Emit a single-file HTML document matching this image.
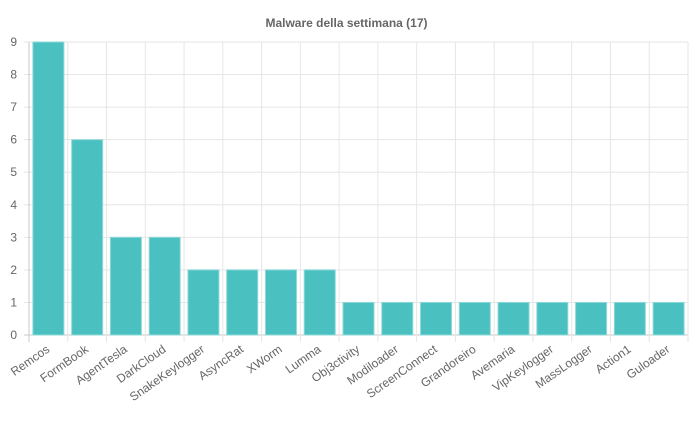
<!DOCTYPE html>
<html><head><meta charset="utf-8"><style>
body{margin:0;background:#fff;font-family:"Liberation Sans",Arial,sans-serif}
</style></head><body>
<svg id="chart" width="693" height="421" xmlns="http://www.w3.org/2000/svg">
<text x="346.5" y="27" text-anchor="middle" font-size="12" font-weight="bold" fill="#666" font-family="Liberation Sans, sans-serif">Malware della settimana (17)</text>
<g id="grid"></g><g id="bars"></g><g id="labels"></g>
</svg>
<script>
const categories=["Remcos","FormBook","AgentTesla","DarkCloud","SnakeKeylogger","AsyncRat","XWorm","Lumma","Obj3ctivity","Modiloader","ScreenConnect","Grandoreiro","Avemaria","VipKeylogger","MassLogger","Action1","Guloader"];
const values=[9,6,3,3,2,2,2,2,1,1,1,1,1,1,1,1,1];
const yTicks=[0,1,2,3,4,5,6,7,8,9];
const NS="http://www.w3.org/2000/svg";
const L=29,R=688,T=42,B=335,yMax=9;
const bw=(R-L)/categories.length;
const y=v=>B-(B-T)*v/yMax;
const x=i=>L+bw*i;
function mk(tag,attrs,parent){const e=document.createElementNS(NS,tag);for(const k in attrs)e.setAttribute(k,attrs[k]);parent.appendChild(e);return e;}
const grid=document.getElementById('grid'),bars=document.getElementById('bars'),labels=document.getElementById('labels');
yTicks.forEach(t=>{
 const g=mk('line',{x1:L-5,x2:R,y1:y(t),y2:y(t),stroke:t===0?'#c8c8c8':'#e6e6e6','stroke-width':1},grid);
 
 
 const tx=mk('text',{x:L-12,y:y(t)+4,'text-anchor':'end','font-size':12,fill:'#666'},labels);
 tx.textContent=t;
 
 
});
for(let i=0;i<=categories.length;i++){
 const g=mk('line',{x1:x(i),x2:x(i),y1:T,y2:B+7,stroke:i===0?'#c8c8c8':'#e6e6e6','stroke-width':1},grid);
 
 
}
categories.forEach((c,i)=>{
 const bx=x(i)+bw*0.1,w=bw*0.8;
 const r=mk('rect',{x:bx,y:y(values[i]),width:w,height:B-y(values[i]),fill:'#4bc0c0',stroke:'#8fd9d9','stroke-width':1},bars);
 
 
 const cx=x(i)+bw/2;
 const t=mk('text',{x:cx+2,y:B+16,'text-anchor':'end','font-size':12,fill:'#666',transform:`rotate(-35 ${cx+2} ${B+16})`},labels);
 t.textContent=c;
 
 
});
</script>
</body></html>
